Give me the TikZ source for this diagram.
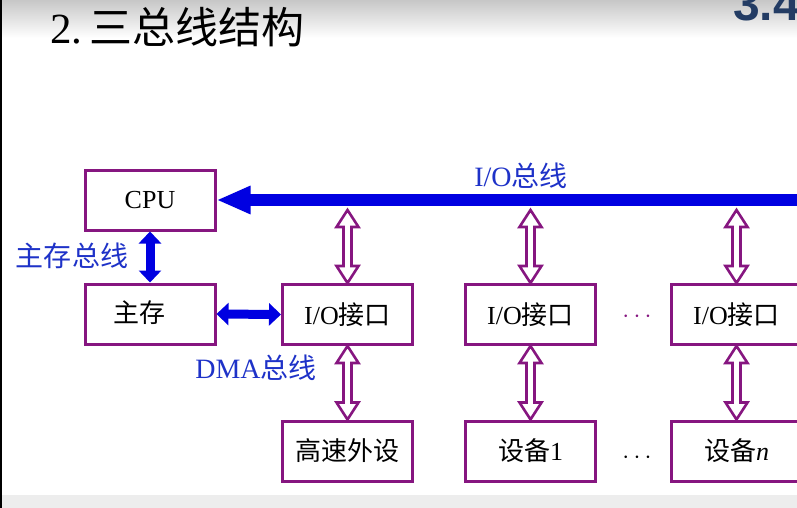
\documentclass[tikz,border=0pt]{standalone}
\usepackage{fontspec}
\setmainfont{Liberation Serif}
\newfontfamily\cjk{Noto Sans CJK SC}
\newfontfamily\hdsans{Liberation Sans}
\usetikzlibrary{arrows.meta,calc}
\definecolor{boxpurple}{RGB}{134,22,128}
\definecolor{busblue}{RGB}{0,0,225}
\definecolor{lblblue}{RGB}{30,50,200}
\definecolor{hdblue}{RGB}{35,60,100}
\newcommand{\fsz}[1]{\fontsize{#1}{#1}\selectfont}
\tikzset{
  box/.style={draw=boxpurple, line width=3pt, minimum width=130pt, minimum height=60pt, inner sep=0pt, font=\fsz{26}},
  lbl/.style={text=lblblue, font=\fsz{28}, inner sep=0pt},
  bluearrow/.style={draw=busblue, line width=9pt, {Triangle[length=12pt,width=22pt]}-{Triangle[length=12pt,width=22pt]}},
  holarrow/.style={draw=boxpurple, fill=white, line width=2.6pt, line join=miter,
    to path={let \p1=(\tikztostart), \p2=(\tikztotarget) in
    (\x1,\y1) -- (\x1+11pt,\y1-17pt) -- (\x1+4pt,\y1-17pt) -- (\x1+4pt,\y2+17pt) -- (\x1+11pt,\y2+17pt) --
    (\x1,\y2) -- (\x1-11pt,\y2+17pt) -- (\x1-4pt,\y2+17pt) -- (\x1-4pt,\y1-17pt) -- (\x1-11pt,\y1-17pt) -- cycle}},
  dots/.style={font=\fsz{26}, inner sep=0pt}
}
\begin{document}
\begin{tikzpicture}[x=1pt,y=-1pt]
\useasboundingbox (0,0) rectangle (797,508);
\clip (0,0) rectangle (797,508);
\fill[white] (0,0) rectangle (797,508);
\shade[top color=black!22, bottom color=white] (0,0) rectangle (797,38);
\fill[black!7] (0,495) rectangle (797,508);
\fill[black] (0,0) rectangle (1.6,508);
% header
\node[anchor=base west, inner sep=0pt, text=hdblue, font=\hdsans\bfseries\fsz{48}] (sec) at (733,21) {3.4};
\node[anchor=base west, inner sep=0pt, font=\fsz{43}] (title) at (50,44) {2.\,{\cjk 三总线结构}};
% boxes
\node[box] (cpu) at (150,200) {CPU};
\node[box] (mem) at (150,314) {};
\node[lbl, text=black, font=\fsz{26}] (memtxt) at (139,313) {\cjk 主存};
\node[box] (io1) at (347.5,314.5) {I/O{\cjk 接口}};
\node[box] (io2) at (530.5,314.5) {I/O{\cjk 接口}};
\node[box] (io3) at (736.5,314.5) {I/O{\cjk 接口}};
\node[box] (dv1) at (347.5,451) {\cjk 高速外设};
\node[box] (dv2) at (530.5,451) {{\cjk 设备}1};
\node[box] (dv3) at (736.5,451) {{\cjk 设备}\textit{n}};
% dots
\node[dots, text=boxpurple] (d1) at (637,317) {$\cdots$};
\node[dots] (d2) at (637,458) {$\cdots$};
% I/O bus
\coordinate (busend) at (805,200);
\draw[busblue, line width=12pt, -{Triangle[length=34pt,width=26pt]}] (busend) -- (cpu.east);
\node[lbl] (iolbl) at (521,176) {I/O{\cjk 总线}};
% bus taps
\coordinate (t1) at (347.5,210);
\coordinate (t2) at (530.5,210);
\coordinate (t3) at (736.5,210);
\draw[holarrow] (t1) to (io1.north);
\draw[holarrow] (t2) to (io2.north);
\draw[holarrow] (t3) to (io3.north);
\draw[holarrow] (io1.south) to (dv1.north);
\draw[holarrow] (io2.south) to (dv2.north);
\draw[holarrow] (io3.south) to (dv3.north);
% memory bus & DMA bus
\draw[bluearrow] (cpu.south) -- (mem.north);
\node[lbl] (mblbl) at (72,256) {\cjk 主存总线};
\draw[bluearrow] (mem.east) -- (io1.west);
\node[lbl] (dmalbl) at (256,368) {DMA{\cjk 总线}};
\end{tikzpicture}
\end{document}
